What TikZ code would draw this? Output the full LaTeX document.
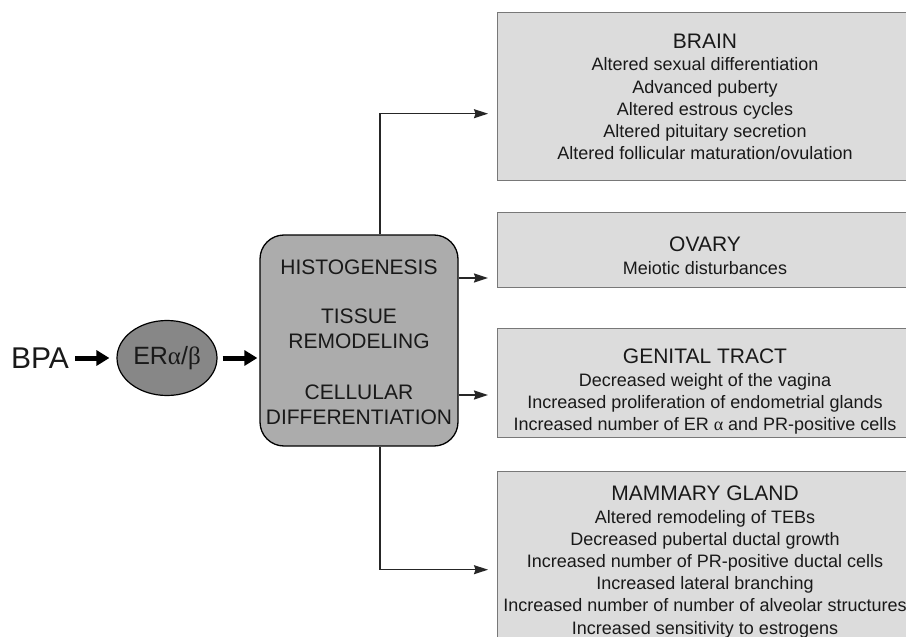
\documentclass[tikz,border=0pt]{standalone}
\usepackage{fontspec}
\setmainfont{Liberation Sans}
\newfontfamily\grk{Liberation Serif}
\usetikzlibrary{shapes.geometric,arrows.meta}
\definecolor{boxfill}{RGB}{220,220,220}
\definecolor{boxline}{RGB}{120,120,120}
\definecolor{hubfill}{RGB}{172,172,172}
\definecolor{erfill}{RGB}{135,135,135}
\definecolor{ink}{RGB}{25,25,25}
\tikzset{
  organbox/.style={draw=boxline, line width=1.4pt, fill=boxfill, minimum width=416pt, anchor=north west, inner sep=0pt},
  organtxt/.style={anchor=north, align=center, inner sep=0pt, text=ink, font=\fontsize{18}{22.2}\selectfont},
  hubbox/.style={draw=black, line width=1.3pt, fill=hubfill, rounded corners=24pt, minimum width=198pt, minimum height=211pt, inner sep=0pt},
  hubtxt/.style={anchor=north, align=center, inner sep=0pt, text=ink, font=\fontsize{21}{25}\selectfont},
  fat/.style={line width=5pt, -{Triangle[length=13pt,width=15pt]}},
  thin/.style={line width=1.5pt, black!85, -{Stealth[length=14pt,width=9pt,inset=1.5pt]}},
}
\begin{document}
\begin{tikzpicture}[x=1pt,y=-1pt]
\clip (0,0) rectangle (906,637);
\fill[white] (0,0) rectangle (906,637);
% organ boxes
\node[organbox, minimum height=168pt] (brain) at (497,12) {};
\node[organbox, minimum height=75pt] (ovary) at (497,212) {};
\node[organbox, minimum height=109pt] (genital) at (497,328) {};
\node[organbox, minimum height=176pt] (mammary) at (497,471) {};
\node[organtxt] (braintxt) at (705,34) {{\fontsize{21}{22.2}\selectfont BRAIN}\\Altered sexual differentiation\\Advanced puberty\\Altered estrous cycles\\Altered pituitary secretion\\Altered follicular maturation/ovulation};
\node[organtxt] (ovarytxt) at (705,237) {{\fontsize{21}{22.2}\selectfont OVARY}\\Meiotic disturbances};
\node[organtxt] (genitaltxt) at (705,349) {{\fontsize{21}{22.2}\selectfont GENITAL TRACT}\\Decreased weight of the vagina\\Increased proliferation of endometrial glands\\Increased number of ER {\grk α} and PR-positive cells};
\node[organtxt] (mammarytxt) at (705,486) {{\fontsize{21}{22.2}\selectfont MAMMARY GLAND}\\Altered remodeling of TEBs\\Decreased pubertal ductal growth\\Increased number of PR-positive ductal cells\\Increased lateral branching\\Increased number of number of alveolar structures\\Increased sensitivity to estrogens};
% hub
\node[hubbox] (hub) at (359,340.5) {};
\node[hubtxt] (hubtxt) at (359,260) {HISTOGENESIS\\[24pt]TISSUE\\REMODELING\\[26pt]CELLULAR\\DIFFERENTIATION};
% left chain
\node[inner sep=0pt, text=ink, font=\fontsize{30}{32}\selectfont, anchor=west] (bpa) at (11,358) {BPA};
\node[ellipse, draw=black, line width=1.2pt, fill=erfill, minimum width=100pt, minimum height=75pt, inner sep=0pt, text=ink, font=\fontsize{25}{28}\selectfont] (er) at (167,358) {ER{\grk α}/{\grk β}};
\draw[fat, shorten <=6pt, shorten >=7pt] (bpa.east) -- (er.west);
\draw[fat, shorten <=5pt, shorten >=2pt] (er.east) -- (hub.west |- er.east);
% connectors
\draw[thin, shorten >=9pt] ([xshift=21pt]hub.north) |- ([yshift=-17pt]brain.west);
\draw[thin, shorten >=9pt] ([yshift=62.5pt]hub.east) -- ([yshift=62.5pt]hub.east -| ovary.west);
\draw[thin, shorten >=9pt] ([yshift=-54.5pt]hub.east) -- ([yshift=-54.5pt]hub.east -| genital.west);
\draw[thin, shorten >=9pt] ([xshift=21pt]hub.south) |- ([yshift=-10pt]mammary.west);
\end{tikzpicture}
\end{document}
